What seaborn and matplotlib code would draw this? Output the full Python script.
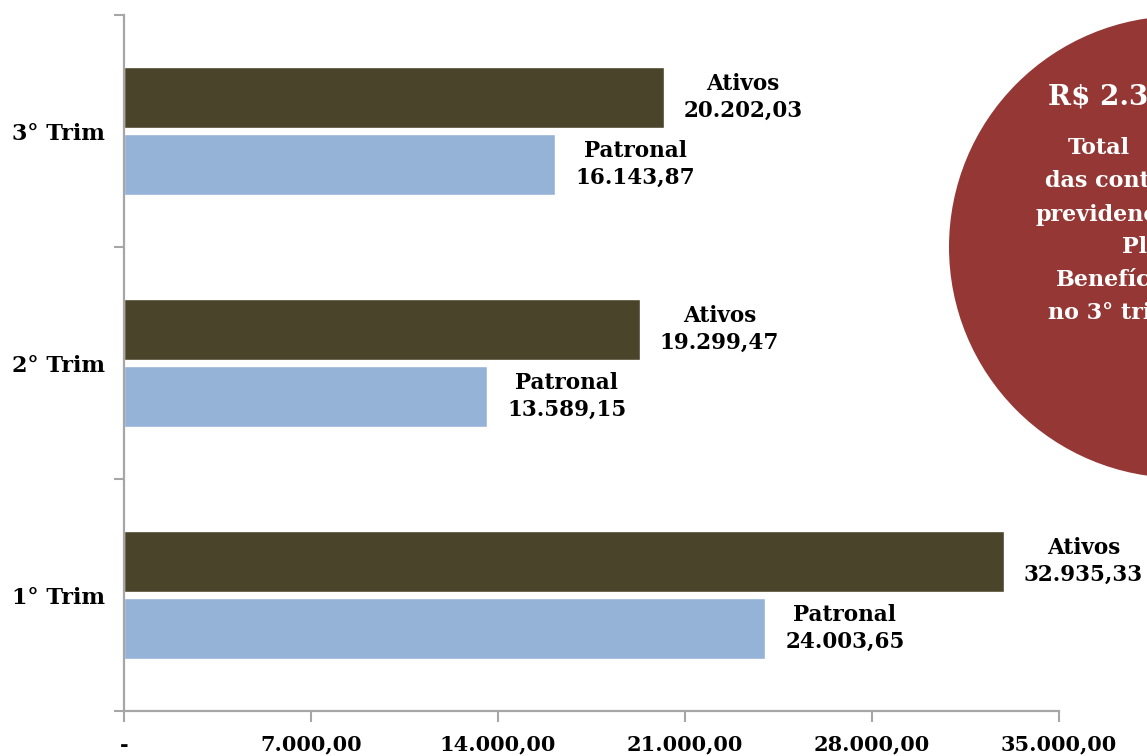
import matplotlib
matplotlib.use("Agg")
import matplotlib.pyplot as plt
from matplotlib.patches import Circle
import pandas as pd
import seaborn as sns

# Contribuições previdenciárias por trimestre (R$)
trimestres = ["3° Trim", "2° Trim", "1° Trim"]
series = ["Ativos", "Patronal"]
ativos = [20202.03, 19299.47, 32935.33]
patronal = [16143.87, 13589.15, 24003.65]
x_ticks = [0, 7000, 14000, 21000, 28000, 35000]
circle_lines = ["R$ 2.3", "Total", "das contribuições", "previdenciárias",
                "Plano", "Benefícios", "no 3° trimestre"]

cores = {"Ativos": "#4A442A", "Patronal": "#95B3D7"}


def brl(v):
    s = f"{v:,.2f}"
    return s.replace(",", "X").replace(".", ",").replace("X", ".")


df = pd.DataFrame({
    "trimestre": trimestres * 2,
    "serie": ["Ativos"] * 3 + ["Patronal"] * 3,
    "valor": ativos + patronal,
})

sns.set_theme(style="white")
plt.rcParams["font.family"] = ["DejaVu Serif"]
plt.rcParams["font.weight"] = "bold"
plt.rcParams["text.color"] = "black"

fig = plt.figure(figsize=(11.47, 7.56), dpi=100)

# destaque circular à direita (desenhado atrás do gráfico)
circ = Circle((11.80, (756 - 247) / 100), 2.31, transform=fig.dpi_scale_trans,
              facecolor="#953735", edgecolor="none", zorder=0)
fig.add_artist(circ)

ax = fig.add_axes([124 / 1147, 45 / 756, (1059 - 124) / 1147, (711 - 15) / 756])
ax.patch.set_visible(False)

sns.barplot(data=df, y="trimestre", x="valor", hue="serie", orient="h",
            order=trimestres, hue_order=series, palette=cores,
            width=0.575, gap=0.08, saturation=1, legend=False, ax=ax)

ax.set_xlim(0, 35000)
ax.set_ylim(2.5, -0.5)
ax.set_xlabel("")
ax.set_ylabel("")

# eixo x
ax.set_xticks(x_ticks)
ax.set_xticklabels(["-"] + [brl(v) for v in x_ticks[1:]],
                   fontsize=15, fontweight="bold")
ax.tick_params(axis="x", which="major", bottom=True, direction="out",
               length=8, width=1.5, color="#A6A6A6", pad=9,
               labelcolor="black")

# eixo y: rótulos no centro, marcas entre categorias
ax.tick_params(axis="y", which="major", left=True, length=0, pad=13.5,
               labelsize=16, labelcolor="black")
ax.set_yticks([-0.5, 0.5, 1.5, 2.5], minor=True)
ax.tick_params(axis="y", which="minor", left=True, direction="out",
               length=7, width=1.5, color="#A6A6A6")
for lab in ax.get_yticklabels():
    lab.set_fontweight("bold")

for side in ["top", "right"]:
    ax.spines[side].set_visible(False)
for side in ["left", "bottom"]:
    ax.spines[side].set_color("#A6A6A6")
    ax.spines[side].set_linewidth(1.6)

# rótulos de valor ao lado de cada barra
valores = {"Ativos": ativos, "Patronal": patronal}
for serie, cont in zip(series, ax.containers):
    for bar, v in zip(cont, valores[serie]):
        yc = bar.get_y() + bar.get_height() / 2
        ax.annotate(f"{serie}\n{brl(v)}", xy=(v, yc), xytext=(20, 0),
                    textcoords="offset pixels", ha="left", va="center",
                    multialignment="center", fontsize=15.5,
                    fontweight="bold", linespacing=1.3, color="black",
                    annotation_clip=False)

starts = [1048, 1068, 1045, 1035, 1122, 1056, 1048]
rows = [97, 148, 181, 214, 247, 280, 313]
for i, (txt, x0, y0) in enumerate(zip(circle_lines, starts, rows)):
    fig.text(x0 / 1147, 1 - y0 / 756, txt, ha="left", va="center",
             color="white", fontweight="bold",
             fontsize=20 if i == 0 else 16)

fig.savefig("out.png", dpi=100)
